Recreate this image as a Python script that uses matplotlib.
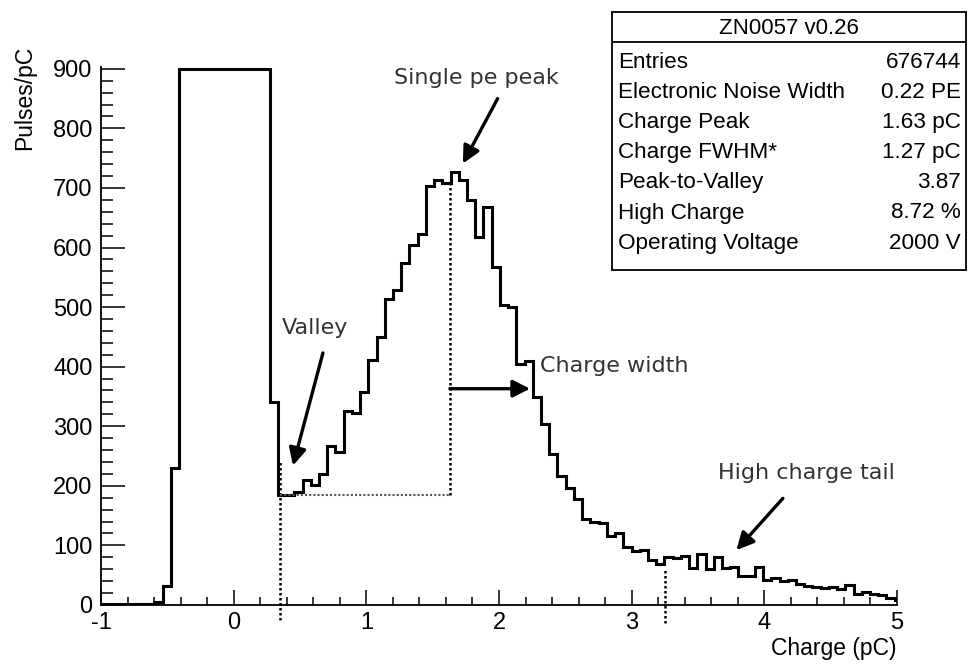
import numpy as np
import matplotlib
matplotlib.use("Agg")
import matplotlib.pyplot as plt
from matplotlib.ticker import MultipleLocator

plt.rcParams["axes.unicode_minus"] = False

# histogram: bin width and first edge (pC)
bin_width = 0.062
first_edge = -1.031
counts = [1, 1, 1, 1, 1, 1, 1, 5, 32, 230,
          900, 900, 900, 900, 900, 900, 900, 900, 900, 900, 900,
          340, 184, 184, 190, 209, 201, 220, 266, 257, 325,
          322, 358, 411, 449, 514, 528, 574, 604, 622, 703,
          713, 708, 726, 713, 680, 618, 668, 567, 504, 500,
          404, 410, 349, 304, 254, 216, 196, 178, 144, 139,
          137, 116, 121, 97, 90, 93, 75, 69, 81, 79,
          82, 62, 86, 60, 80, 62, 64, 48, 48, 64,
          42, 46, 40, 42, 36, 32, 31, 28, 31, 27,
          33, 18, 22, 19, 16, 12, 9]
edges = first_edge + bin_width * np.arange(len(counts) + 1)

# markers for valley / peak / high charge threshold
valley_x, valley_y = 0.35, 184
peak_x, peak_y = 1.63, 713
high_charge_x = 3.25

stats_title = "ZN0057 v0.26"
stats_names = ["Entries", "Electronic Noise Width", "Charge Peak", "Charge FWHM*",
               "Peak-to-Valley", "High Charge", "Operating Voltage"]
stats_values = ["676744", "0.22 PE", "1.63 pC", "1.27 pC", "3.87", "8.72 %", "2000 V"]

root_font = "Liberation Sans"
note_font = "DejaVu Sans"
note_color = "#333333"

fig = plt.figure(figsize=(9.72, 6.64), dpi=100)
ax = fig.add_axes([0.1039, 0.0889, 0.8189, 0.8102])

ax.stairs(counts, edges, baseline=None, color="black", lw=2.2)

dot = dict(color="black", lw=1.8, linestyle=(0, (1, 1)), clip_on=False)
ax.plot([valley_x, valley_x], [-25, 242], **dot)
ax.plot([valley_x, peak_x], [valley_y, valley_y], color="#555555", lw=1.5,
        linestyle=(0, (1, 1)))
ax.plot([peak_x, peak_x], [valley_y, peak_y], **dot)
ax.plot([high_charge_x, high_charge_x], [-30, 60], **dot)

ax.set_xlim(-1, 5)
ax.set_ylim(0, 903)
for s in ["top", "right"]:
    ax.spines[s].set_visible(False)
for s in ["left", "bottom"]:
    ax.spines[s].set_linewidth(1.3)

ax.xaxis.set_major_locator(MultipleLocator(1))
ax.xaxis.set_minor_locator(MultipleLocator(0.2))
ax.yaxis.set_major_locator(MultipleLocator(100))
ax.yaxis.set_minor_locator(MultipleLocator(20))
ax.tick_params(axis="x", which="major", direction="in", length=11, width=1.1, pad=5)
ax.tick_params(axis="x", which="minor", direction="in", length=5.5, width=1.1)
ax.tick_params(axis="y", which="major", direction="in", length=17, width=1.1, pad=6)
ax.tick_params(axis="y", which="minor", direction="in", length=8.5, width=1.1)
for lab in ax.get_xticklabels() + ax.get_yticklabels():
    lab.set_family(root_font)
    lab.set_fontsize(17)

ax.set_xlabel("Charge (pC)", family=root_font, fontsize=16.5, loc="right", labelpad=2)
ax.set_ylabel("Pulses/pC", family=root_font, fontsize=16.5, loc="top")
ax.yaxis.set_label_coords(-0.082, 1.04)

arrow = dict(arrowstyle="-|>", color="black", lw=2.4, mutation_scale=26,
             shrinkA=0, shrinkB=0)
ax.annotate("", xy=(1.728, 741), xytext=(1.99, 850), arrowprops=arrow)
ax.text(1.826, 885, "Single pe peak", family=note_font, fontsize=16,
        color=note_color, ha="center", va="center")
ax.annotate("", xy=(0.447, 234), xytext=(0.673, 423), arrowprops=arrow)
ax.text(0.612, 465, "Valley", family=note_font, fontsize=16,
        color=note_color, ha="center", va="center")
ax.annotate("", xy=(2.235, 363), xytext=(1.63, 363), arrowprops=arrow)
ax.text(2.31, 401, "Charge width", family=note_font, fontsize=16,
        color=note_color, ha="left", va="center")
ax.annotate("", xy=(3.79, 92), xytext=(4.14, 179), arrowprops=arrow)
ax.text(4.314, 222, "High charge tail", family=note_font, fontsize=16,
        color=note_color, ha="center", va="center")

# stats box
box = fig.add_axes([612 / 972, 1 - 270 / 664, 354 / 972, 258 / 664])
box.set_xticks([])
box.set_yticks([])
box.set_xlim(0, 1)
box.set_ylim(0, 1)
for s in box.spines.values():
    s.set_linewidth(1.3)
header_y = 1 - 30 / 258
box.axhline(header_y, color="black", lw=1.3)
box.text(0.5, 1 - 16 / 258, stats_title, family=root_font, fontsize=16,
         ha="center", va="center")
for i, (name, val) in enumerate(zip(stats_names, stats_values)):
    y = 1 - (50 + 30.2 * i) / 258
    box.text(0.017, y, name, family=root_font, fontsize=16.2, ha="left", va="center")
    box.text(0.985, y, val, family=root_font, fontsize=16.2, ha="right", va="center")

fig.savefig("out.png", dpi=100)
